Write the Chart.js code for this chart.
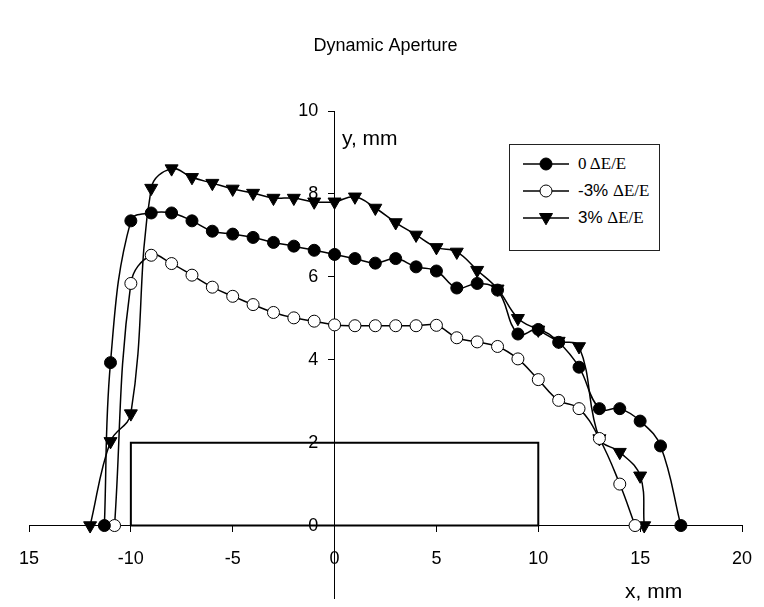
<!DOCTYPE html>
<html>
<head>
<meta charset="utf-8">
<script src="https://cdn.jsdelivr.net/npm/chart.js@4/dist/chart.umd.min.js"></script>
<style>
  html, body { margin: 0; padding: 0; background: #fff; }
  #wrap { position: relative; width: 764px; height: 607px; }
  canvas { position: absolute; left: 0; top: 0; }
  .axt { position: absolute; font-family: "Liberation Sans", Arial, sans-serif; font-size: 21px; color: #000; white-space: nowrap; line-height: 1; }
  #legend { position: absolute; left: 509px; top: 144px; width: 151px; height: 107px; border: 1px solid #222; box-sizing: border-box; background: #fff; }
  .li { position: absolute; left: 13px; height: 20px; display: flex; align-items: center; }
  .li span { font-size: 17px; margin-left: 9px; white-space: nowrap; }
  .sans { font-family: "Liberation Sans", Arial, sans-serif; }
  .serif { font-family: "Liberation Serif", "Times New Roman", serif; font-size: 18px; }
</style>
</head>
<body>
<div id="wrap">
  <canvas id="c" width="764" height="607"></canvas>
  <div class="axt" style="left:342px; top:127px;">y, mm</div>
  <div class="axt" style="left:625px; top:580px;">x, mm</div>
  <div id="legend"></div>
</div>
<script>
// ---- data ----
const seriesPrefix = ['0 ', '-3% ', '3% '];
const seriesUnit = '\u0394E/E';

const xZero = [-11.3, -11, -10, -9, -8, -7, -6, -5, -4, -3, -2, -1, 0, 1, 2, 3, 4, 5, 6, 7, 8, 9, 10, 11, 12, 13, 14, 15, 16, 17];
const yZero = [0, 3.93, 7.35, 7.54, 7.54, 7.35, 7.1, 7.03, 6.95, 6.83, 6.74, 6.64, 6.54, 6.44, 6.33, 6.44, 6.24, 6.14, 5.73, 5.84, 5.68, 4.62, 4.73, 4.42, 3.82, 2.82, 2.82, 2.52, 1.92, 0];

const xMinus3 = [-10.8, -10, -9, -8, -7, -6, -5, -4, -3, -2, -1, 0, 1, 2, 3, 4, 5, 6, 7, 8, 9, 10, 11, 12, 13, 14, 14.75];
const yMinus3 = [0, 5.84, 6.52, 6.32, 6.04, 5.75, 5.53, 5.33, 5.14, 5.01, 4.93, 4.84, 4.82, 4.82, 4.82, 4.82, 4.83, 4.53, 4.43, 4.32, 4.02, 3.52, 3.02, 2.82, 2.1, 1.0, 0];

const xPlus3 = [-12, -11, -10, -9, -8, -7, -6, -5, -4, -3, -2, -1, 0, 1, 2, 3, 4, 5, 6, 7, 8, 9, 10, 11, 12, 13, 14, 15, 15.2];
const yPlus3 = [0, 2.03, 2.7, 8.14, 8.61, 8.4, 8.26, 8.12, 8.02, 7.9, 7.9, 7.81, 7.81, 7.93, 7.66, 7.31, 7.01, 6.71, 6.6, 6.16, 5.71, 5.0, 4.72, 4.45, 4.32, 2.1, 1.77, 1.2, 0];

const xBox = [-10, -10, 10, 10, -10];
const yBox = [0, 2, 2, 0, 0];

const xTicks = [-15, -10, -5, 0, 5, 10, 15, 20];
const xTickLabels = ['15', '-10', '-5', '0', '5', '10', '15', '20'];
const yTicks = [0, 2, 4, 6, 8, 10];
const yTickLabels = ['0', '2', '4', '6', '8', '10'];

const chartTitle = 'Dynamic Aperture';
// --------------

const seriesNames = seriesPrefix.map(p => p + seriesUnit);
const zip = (xs, ys) => xs.map((x, i) => ({ x: x, y: ys[i] }));

const ds = (name, xs, ys, style, fill, rot, r) => ({
  label: name,
  data: zip(xs, ys),
  showLine: true,
  borderColor: '#000',
  borderWidth: 1.5,
  tension: 0.4,
  pointStyle: style,
  pointRotation: rot,
  pointRadius: r,
  pointBackgroundColor: fill,
  pointBorderColor: '#000',
  pointBorderWidth: 1,
  yAxisID: 'y',
  order: 1
});

const datasets = [
  ds(seriesNames[0], xZero, yZero, 'circle', '#000', 0, 6),
  ds(seriesNames[1], xMinus3, yMinus3, 'circle', '#fff', 0, 6),
  ds(seriesNames[2], xPlus3, yPlus3, 'triangle', '#000', 180, 7.5),
  {
    label: 'box',
    data: zip(xBox, yBox),
    showLine: true,
    borderColor: '#000',
    borderWidth: 2,
    tension: 0,
    pointRadius: 0,
    yAxisID: 'y',
    order: 2
  }
];

const tickFont = { family: '"Liberation Sans", Arial, sans-serif', size: 18 };
const zeroPad = (s) => { s.paddingLeft = 0; s.paddingRight = 0; s.paddingTop = 0; s.paddingBottom = 0; };

new Chart(document.getElementById('c'), {
  type: 'scatter',
  data: { datasets: datasets },
  options: {
    responsive: false,
    animation: false,
    devicePixelRatio: 1,
    layout: { padding: { left: 29, right: 22, top: 0, bottom: 0 } },
    plugins: {
      legend: { display: false },
      tooltip: { enabled: false },
      title: {
        display: true,
        text: chartTitle,
        color: '#000',
        font: { family: '"Liberation Sans", Arial, sans-serif', size: 18, weight: 'normal' },
        padding: { top: 35, bottom: 54.4 }
      }
    },
    scales: {
      x: {
        type: 'linear',
        min: -15, max: 20,
        position: { y: 0 },
        afterBuildTicks: (s) => { s.ticks = xTicks.map(v => ({ value: v })); },
        afterFit: (s) => { s.height = 0; zeroPad(s); },
        ticks: {
          autoSkip: false, maxRotation: 0, color: '#000', font: tickFont, padding: 17,
          callback: (v, i) => xTickLabels[i]
        },
        grid: { drawOnChartArea: false, drawTicks: true, tickLength: 6, color: '#000', lineWidth: 1 },
        border: { color: '#000', width: 1 }
      },
      y: {
        type: 'linear',
        min: -1.76, max: 10,
        position: { x: 0 },
        afterBuildTicks: (s) => { s.ticks = yTicks.map(v => ({ value: v })); },
        afterFit: (s) => { s.width = 0; zeroPad(s); },
        ticks: { display: false },
        grid: { drawOnChartArea: false, drawTicks: true, tickLength: 6, color: '#000', lineWidth: 1 },
        border: { color: '#000', width: 1 }
      },
      yl: {
        type: 'linear',
        min: -1.76, max: 10,
        position: { x: -0.8 },
        afterBuildTicks: (s) => { s.ticks = yTicks.map(v => ({ value: v })); },
        afterFit: (s) => { s.width = 0; zeroPad(s); },
        ticks: {
          autoSkip: false, color: '#000', font: tickFont, padding: 0,
          callback: (v, i) => yTickLabels[i]
        },
        grid: { display: false },
        border: { display: false }
      }
    }
  }
});

// HTML legend
const legendItems = [
  { fill: '#000', shape: 'circle', prefixFont: 'serif' },
  { fill: '#fff', shape: 'circle', prefixFont: 'sans' },
  { fill: '#000', shape: 'tri', prefixFont: 'sans' }
];
const lg = document.getElementById('legend');
legendItems.forEach((it, i) => {
  const d = document.createElement('div');
  d.className = 'li';
  d.style.top = (9 + i * 27) + 'px';
  const mk = it.shape === 'circle'
    ? '<circle cx="23" cy="10" r="6" fill="' + it.fill + '" stroke="#000" stroke-width="1"/>'
    : '<polygon points="16.5,5.5 29.5,5.5 23,16.8" fill="#000" stroke="#000" stroke-width="1"/>';
  d.innerHTML = '<svg width="46" height="20"><line x1="0" y1="10" x2="46" y2="10" stroke="#000" stroke-width="1.5"/>' + mk + '</svg>' +
    '<span><span class="' + it.prefixFont + '" style="margin:0">' + seriesPrefix[i] + '</span><span class="serif" style="margin:0">' + seriesUnit + '</span></span>';
  lg.appendChild(d);
});
</script>
</body>
</html>
